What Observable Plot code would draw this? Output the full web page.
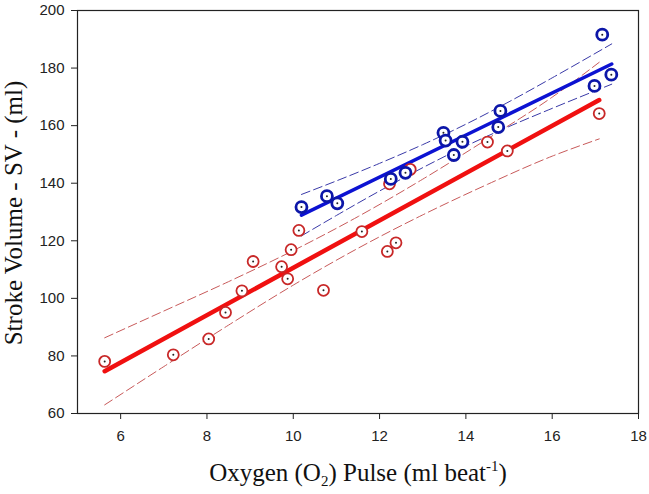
<!DOCTYPE html>
<html>
<head>
<meta charset="utf-8">
<script src="https://cdn.jsdelivr.net/npm/d3@7"></script>
<script src="https://cdn.jsdelivr.net/npm/@observablehq/plot@0.6"></script>
<style>
  html, body { margin: 0; padding: 0; background: #fff; }
  #chart { width: 649px; height: 494px; }
</style>
</head>
<body>
<div id="chart"></div>
<script>
// ---- Data ----
// Group 1 (red) observations
const redX = [5.63, 7.22, 8.04, 8.43, 8.81, 9.07, 9.73, 9.87, 9.95, 10.13, 10.70, 11.59, 12.18, 12.38, 12.23, 12.71, 14.50, 14.96, 17.09];
const redY = [78.1, 80.4, 85.9, 95.1, 102.6, 112.8, 111.0, 106.8, 116.9, 123.6, 102.8, 123.2, 116.3, 119.3, 139.8, 144.8, 154.3, 151.2, 164.2];
// Group 2 (blue) observations
const blueX = [10.19, 10.78, 11.02, 12.26, 12.60, 13.48, 13.53, 13.92, 13.72, 14.75, 14.80, 16.98, 17.16, 17.37];
const blueY = [131.7, 135.5, 133.0, 141.5, 143.6, 157.5, 154.8, 154.4, 149.8, 159.5, 165.1, 173.8, 191.6, 177.7];
// Fitted regression lines (end points)
const redFitX = [5.63, 17.09];
const redFitY = [74.7, 168.9];
const blueFitX = [10.19, 17.38];
const blueFitY = [128.9, 181.4];
// 95% confidence bands (read at several x positions)
const redBandX = [5.63, 7.0, 8.5, 10.0, 11.5, 13.0, 14.5, 16.0, 17.09];
const redBandUpper = [86.3, 95.6, 105.8, 116.6, 128.4, 141.4, 155.4, 169.9, 182.0];
const redBandLower = [63.0, 76.3, 90.7, 104.6, 117.4, 129.0, 139.6, 149.4, 155.4];
const blueBandX = [10.19, 11.0, 12.0, 13.0, 14.0, 15.0, 16.0, 17.38];
const blueBandUpper = [136.1, 140.8, 146.9, 153.4, 160.5, 168.3, 176.6, 188.4];
const blueBandLower = [121.7, 128.8, 137.3, 145.4, 152.9, 159.7, 166.0, 174.4];
// Axis ticks
const xTicks = [6, 8, 10, 12, 14, 16, 18];
const yTicks = [60, 80, 100, 120, 140, 160, 180, 200];

// ---- Build tables ----
const zip = (xs, ys) => xs.map((x, i) => ({x, y: ys[i]}));
const red = zip(redX, redY);
const blue = zip(blueX, blueY);
const redFit = zip(redFitX, redFitY);
const blueFit = zip(blueFitX, blueFitY);
const redUp = zip(redBandX, redBandUpper);
const redLo = zip(redBandX, redBandLower);
const blueUp = zip(blueBandX, blueBandUpper);
const blueLo = zip(blueBandX, blueBandLower);

const C = {
  redLine: "#f01010", redDot: "#c82828", redDash: "#c85a5a",
  blueLine: "#0c12d2", blueDot: "#0c16a8", blueDash: "#3a3aa8"
};

const chart = Plot.plot({
  width: 649,
  height: 494,
  marginLeft: 77,
  marginRight: 11,
  marginTop: 10,
  marginBottom: 81,
  style: {fontFamily: "Liberation Sans, Arial, sans-serif", fontSize: "15px", color: "#222", background: "#fff"},
  x: {domain: [5, 18], ticks: xTicks, label: null},
  y: {domain: [60, 200], ticks: yTicks, label: null},
  marks: [
    Plot.line(redUp, {x: "x", y: "y", stroke: C.redDash, strokeWidth: 1, strokeDasharray: "9,4", curve: "monotone-x"}),
    Plot.line(redLo, {x: "x", y: "y", stroke: C.redDash, strokeWidth: 1, strokeDasharray: "9,4", curve: "monotone-x"}),
    Plot.line(blueUp, {x: "x", y: "y", stroke: C.blueDash, strokeWidth: 1, strokeDasharray: "9,4", curve: "monotone-x"}),
    Plot.line(blueLo, {x: "x", y: "y", stroke: C.blueDash, strokeWidth: 1, strokeDasharray: "9,4", curve: "monotone-x"}),
    Plot.line(redFit, {x: "x", y: "y", stroke: C.redLine, strokeWidth: 4.5}),
    Plot.line(blueFit, {x: "x", y: "y", stroke: C.blueLine, strokeWidth: 3.5}),
    Plot.dot(red, {x: "x", y: "y", r: 5.5, stroke: C.redDot, strokeWidth: 1.8, fill: "#fff"}),
    Plot.dot(red, {x: "x", y: "y", r: 1, fill: "#222"}),
    Plot.dot(blue, {x: "x", y: "y", r: 5.5, stroke: C.blueDot, strokeWidth: 2.8, fill: "#fff"}),
    Plot.dot(blue, {x: "x", y: "y", r: 1, fill: "#222"}),
    Plot.axisX({ticks: xTicks, tickSize: 6, tickPadding: 11, stroke: "#222", label: null}),
    Plot.axisY({ticks: yTicks, tickSize: 6, tickPadding: 7, stroke: "#222", label: null}),
    Plot.frame({stroke: "#222", strokeWidth: 1.2})
  ]
});

document.getElementById("chart").appendChild(chart);

// ---- Axis titles with sub/superscripts ----
const svg = d3.select(chart);
const serif = "Liberation Serif, Times New Roman, serif";

const xt = svg.append("text")
  .attr("x", 358).attr("y", 481)
  .attr("text-anchor", "middle")
  .attr("font-family", serif).attr("font-size", 25).attr("fill", "#111");
xt.append("tspan").text("Oxygen (O");
xt.append("tspan").attr("font-size", 15).attr("dy", 5).text("2");
xt.append("tspan").attr("dy", -5).text(") Pulse (ml beat");
xt.append("tspan").attr("font-size", 15).attr("dy", -10).text("-1");
xt.append("tspan").attr("dy", 10).text(")");

svg.append("text")
  .attr("transform", "translate(22,213) rotate(-90)")
  .attr("text-anchor", "middle")
  .attr("font-family", serif).attr("font-size", 25).attr("fill", "#111")
  .text("Stroke Volume - SV - (ml)");
</script>
</body>
</html>
